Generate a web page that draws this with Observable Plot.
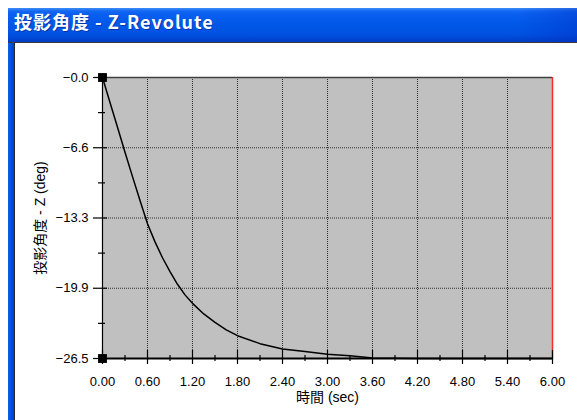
<!DOCTYPE html>
<html>
<head>
<meta charset="utf-8">
<script src="https://cdn.jsdelivr.net/npm/d3@7"></script>
<script src="https://cdn.jsdelivr.net/npm/@observablehq/plot@0.6"></script>
<style>
  html, body { margin: 0; padding: 0; background: #fff; }
  #win { position: absolute; left: 8px; top: 8px; width: 569px; height: 412px; background: #fff; overflow: hidden; }
  #bar {
    position: absolute; left: 0; top: 0; width: 569px; height: 34px;
    background: linear-gradient(to bottom, #3d8df8 0px, #1468f2 3px, #0a5ff0 6px, #0058e8 16px, #0052e2 26px, #0046d2 31px, #003cc0 34px);
  }
  #bar::after {
    content: ""; position: absolute; right: 0; top: 0; width: 60px; height: 34px;
    background: linear-gradient(to right, rgba(0,40,190,0), rgba(0,40,190,0.35));
  }
  #title {
    position: absolute; left: 6px; top: 0; height: 34px; line-height: 36px;
    color: #fff; font: bold 18px "Noto Sans CJK JP", sans-serif; white-space: nowrap;
    letter-spacing: 1px;
    text-shadow: 1px 1px 0 rgba(0,20,120,0.5);
  }
  #rule { position: absolute; left: 0; top: 34px; width: 569px; height: 1px; background: #3a3a3a; }
  #edge { position: absolute; left: 0; top: 35px; width: 6px; height: 377px; background: linear-gradient(to right, #0a5ff0, #0050e0, #0040c8); }
  #edgeline { position: absolute; left: 6px; top: 35px; width: 1px; height: 377px; background: #2a2a2a; }
  #chart { position: absolute; left: 8px; top: 35px; }
</style>
</head>
<body>
<div id="win">
  <div id="bar"><div id="title">投影角度 - Z-Revolute</div></div>
  <div id="rule"></div>
  <div id="edge"></div>
  <div id="edgeline"></div>
  <div id="chart"></div>
</div>
<script>
// Projected angle about Z over time (deg vs sec)
const timeSec = [0, 0.1, 0.2, 0.3, 0.4, 0.5, 0.6, 0.7, 0.8, 0.9, 1.0, 1.1, 1.2, 1.35, 1.5, 1.65, 1.8, 2.1, 2.4, 2.7, 3.0, 3.3, 3.6, 4.2, 4.8, 5.4, 6.0];
const angleDeg = [0, -2.35, -4.7, -7.05, -9.35, -11.6, -13.8, -15.5, -17.0, -18.3, -19.5, -20.5, -21.3, -22.3, -23.1, -23.8, -24.35, -25.1, -25.6, -25.85, -26.1, -26.25, -26.45, -26.5, -26.5, -26.5, -26.5];

// Axis ticks and their printed labels
const xTicks = [0, 0.6, 1.2, 1.8, 2.4, 3.0, 3.6, 4.2, 4.8, 5.4, 6.0];
const xTickLabels = ["0.00", "0.60", "1.20", "1.80", "2.40", "3.00", "3.60", "4.20", "4.80", "5.40", "6.00"];
const xMinorTicks = [0.3, 0.9, 1.5, 2.1, 2.7, 3.3, 3.9, 4.5, 5.1, 5.7];
const yTicks = [0, -6.625, -13.25, -19.875, -26.5];
const yTickLabels = ["\u22120.0", "\u22126.6", "\u221213.3", "\u221219.9", "\u221226.5"];
const yMinorTicks = [-3.3125, -9.9375, -16.5625, -23.1875];

const xLabel = "時間 (sec)";
const yLabel = "投影角度 - Z (deg)";

const series = timeSec.map((t, i) => ({t, v: angleDeg[i]}));
const yMin = yTicks[yTicks.length - 1];
const yMax = yTicks[0];
const xMax = xTicks[xTicks.length - 1];

const font = "'Liberation Sans', 'Noto Sans CJK JP', sans-serif";

const chart = Plot.plot({
  width: 561,
  height: 377,
  marginLeft: 86,
  marginRight: 25,
  marginTop: 34,
  marginBottom: 62,
  x: {domain: [0, xMax]},
  y: {domain: [yMin, yMax]},
  style: {background: "transparent", fontFamily: font, fontSize: "12px", color: "#000"},
  marks: [
    Plot.frame({fill: "#c0c0c0", stroke: "none"}),
    // dotted grid
    Plot.ruleX(xTicks.slice(1, -1), {stroke: "#303030", strokeDasharray: "1,1"}),
    Plot.ruleY(yTicks.slice(1, -1), {stroke: "#303030", strokeDasharray: "1,1"}),
    // top border and red end marker
    Plot.ruleY([yMax], {stroke: "#404040", strokeWidth: 1.5}),
    Plot.ruleX([xMax], {stroke: "#ff2a2a", strokeWidth: 1.5}),
    // curve
    Plot.line(series, {x: "t", y: "v", stroke: "#000", strokeWidth: 1.5}),
    // axis lines
    Plot.ruleY([yMin], {stroke: "#000", strokeWidth: 2}),
    Plot.ruleX([0], {stroke: "#000", strokeWidth: 1.2}),
    // x ticks crossing the axis
    Plot.ruleX(xTicks, {y1: yMin, y2: yMin, insetTop: -8, insetBottom: -6, stroke: "#000", strokeWidth: 1.2}),
    Plot.ruleX(xMinorTicks, {y1: yMin, y2: yMin, insetTop: -3, insetBottom: -3, stroke: "#000", strokeWidth: 1.2}),
    // y ticks crossing the axis
    Plot.ruleY(yTicks, {x1: 0, x2: 0, insetLeft: -9, insetRight: -5, stroke: "#000", strokeWidth: 1.2}),
    Plot.ruleY(yMinorTicks, {x1: 0, x2: 0, insetLeft: -4, insetRight: -3, stroke: "#000", strokeWidth: 1.2}),
    // corner markers
    Plot.dot([yMax, yMin], {x: 0, y: d => d, symbol: "square", r: 5, fill: "#000", stroke: "none"}),
    // tick labels
    Plot.axisX(xTicks, {tickSize: 0, tickPadding: 18, label: null, fontSize: 13,
      tickFormat: d => xTickLabels[xTicks.indexOf(d)]}),
    Plot.axisY(yTicks, {tickSize: 0, tickPadding: 14, label: null, fontSize: 13,
      tickFormat: d => yTickLabels[yTicks.indexOf(d)]}),
    // axis titles
    Plot.text([xLabel], {frameAnchor: "bottom", dy: 39, fontSize: 14, lineAnchor: "middle"}),
    Plot.text([yLabel], {frameAnchor: "left", dx: -62, rotate: -90, fontSize: 14,
      textAnchor: "middle", lineAnchor: "middle"})
  ]
});

document.getElementById("chart").appendChild(chart);
</script>
</body>
</html>
